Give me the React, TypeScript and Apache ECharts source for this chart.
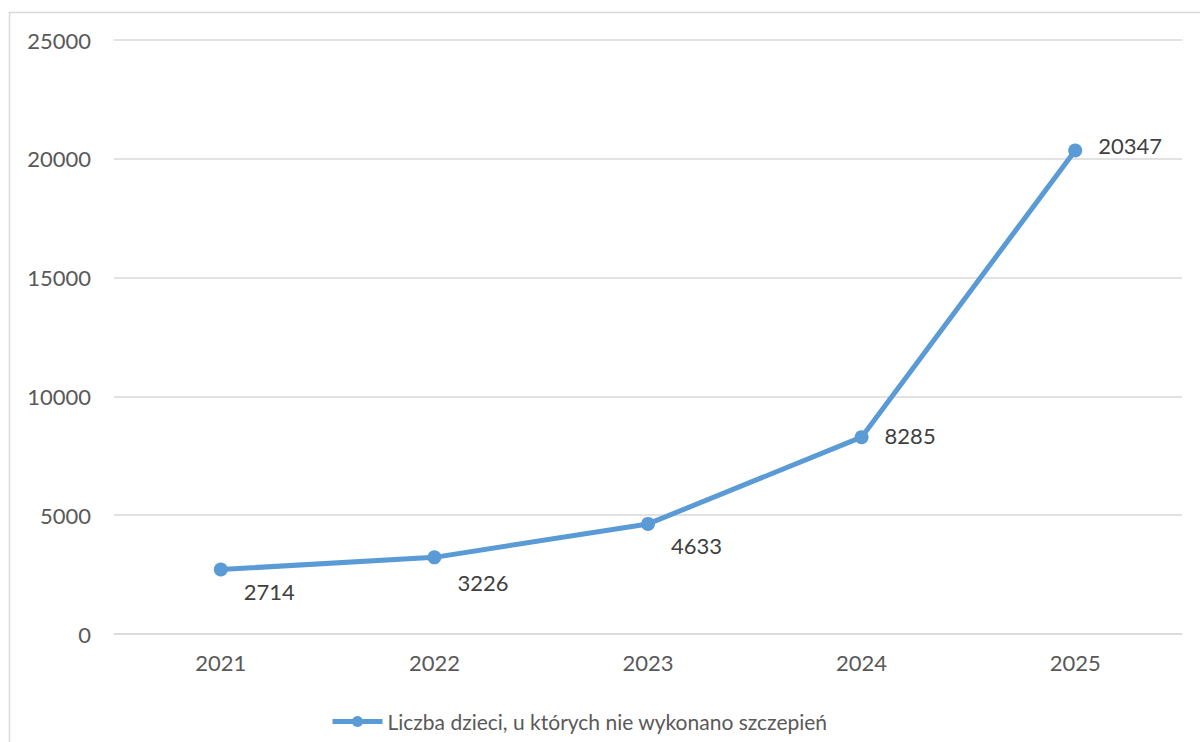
import React, { useEffect, useRef } from "react";
import * as echarts from "echarts";

const categories = ["2021", "2022", "2023", "2024", "2025"];
const values = [2714, 3226, 4633, 8285, 20347];
const labelOffsets: number[][] = [[0, 22], [0, 25], [0, 22], [0, -2], [0, -5]];
const seriesName = "Liczba dzieci, u których nie wykonano szczepień";

export default function App() {
  const ref = useRef<HTMLDivElement>(null);
  useEffect(() => {
    const chart = echarts.init(ref.current!, null, { renderer: "svg" });
    const font = "Lato, 'Noto Sans', sans-serif";
    chart.setOption({
      animation: false,
      textStyle: { fontFamily: font },
      graphic: [
        {
          type: "rect",
          shape: { x: 9.5, y: 12.5, width: 1300, height: 800 },
          style: { fill: "none", stroke: "#d9d9d9", lineWidth: 1.5 },
          silent: true,
        },
      ],
      grid: { left: 114, right: 18, top: 40, bottom: 108, containLabel: false },
      legend: {
        left: 325,
        top: 706,
        itemWidth: 50,
        itemHeight: 14,
        data: [seriesName],
        lineStyle: { width: 5, color: "#5b9bd5" },
        itemStyle: { color: "#5b9bd5" },
        textStyle: { fontFamily: font, fontSize: 21, color: "#595959" },
      },
      xAxis: {
        type: "category",
        data: categories,
        boundaryGap: true,
        axisLine: { show: true, lineStyle: { color: "#d9d9d9", width: 1.5 } },
        axisTick: { show: false },
        axisLabel: { fontFamily: font, fontSize: 22, color: "#595959", margin: 17 },
      },
      yAxis: {
        type: "value",
        min: 0,
        max: 25000,
        interval: 5000,
        axisLine: { show: false },
        axisTick: { show: false },
        splitLine: { lineStyle: { color: "#d9d9d9", width: 1.5 } },
        axisLabel: {
          fontFamily: font,
          fontSize: 22,
          color: "#595959",
          margin: 23,
          formatter: (v: number) => String(v),
        },
      },
      series: [
        {
          name: seriesName,
          type: "line",
          data: values.map((v, i) => ({
            value: v,
            label: { offset: labelOffsets[i] },
          })),
          symbol: "circle",
          symbolSize: 14,
          lineStyle: { color: "#5b9bd5", width: 5 },
          itemStyle: { color: "#5b9bd5" },
          label: {
            show: true,
            position: "right",
            distance: 16,
            fontFamily: font,
            fontSize: 22,
            color: "#404040",
          },
        },
      ],
    });
    return () => chart.dispose();
  }, []);
  return (
    <div
      ref={ref}
      style={{ position: "fixed", left: 0, top: 0, width: 1200, height: 742, background: "#fff" }}
    />
  );
}
